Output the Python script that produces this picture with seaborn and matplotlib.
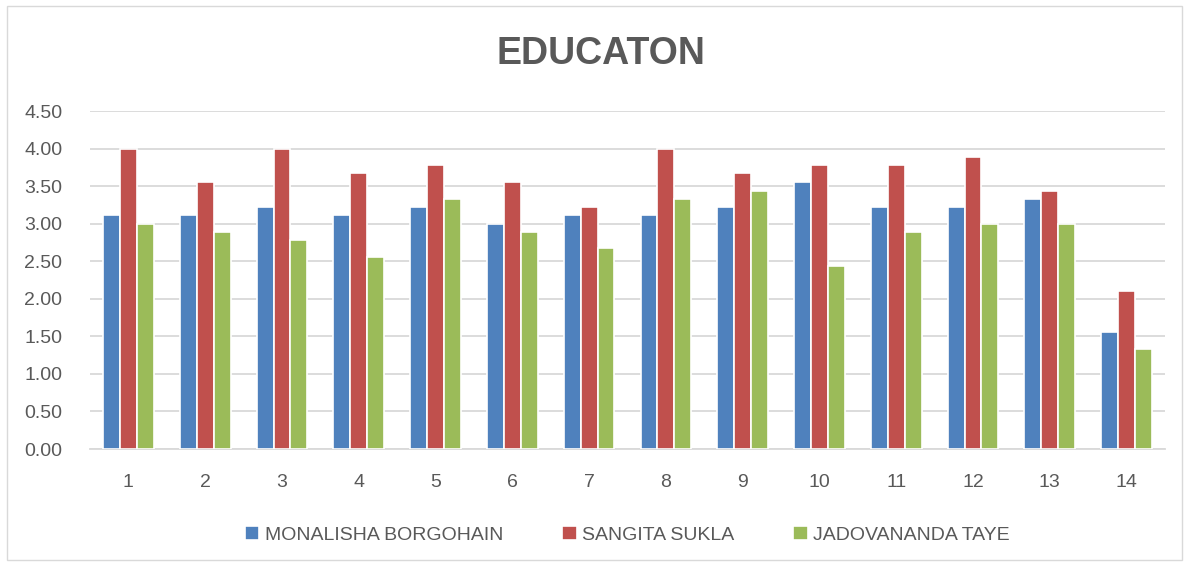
import pandas as pd
import matplotlib.pyplot as plt
import seaborn as sns
from matplotlib.patches import Rectangle

categories = [str(i) for i in range(1, 15)]
monalisha = [3.11, 3.11, 3.22, 3.11, 3.22, 3.00, 3.11, 3.11, 3.22, 3.56, 3.22, 3.22, 3.33, 1.56]
sangita = [4.00, 3.56, 4.00, 3.67, 3.78, 3.56, 3.22, 4.00, 3.67, 3.78, 3.78, 3.89, 3.44, 2.11]
jadovananda = [3.00, 2.89, 2.78, 2.56, 3.33, 2.89, 2.67, 3.33, 3.44, 2.44, 2.89, 3.00, 3.00, 1.33]
series_names = ['MONALISHA BORGOHAIN', 'SANGITA SUKLA', 'JADOVANANDA TAYE']
colors = ['#4F81BD', '#C0504D', '#9BBB59']

df = pd.DataFrame({'item': categories * 3,
                   'score': monalisha + sangita + jadovananda,
                   'name': [n for n in series_names for _ in categories]})

sns.set_style('white')
plt.rcParams['font.family'] = ['Liberation Sans Narrow', 'Liberation Sans', 'DejaVu Sans']

fig = plt.figure(figsize=(11.89, 5.66), dpi=100)
ax = fig.add_axes([90 / 1189, 117 / 566, 1075 / 1189, 338 / 566])

sns.barplot(data=df, x='item', y='score', hue='name', palette=colors, width=0.66,
            edgecolor='white', linewidth=1.2, saturation=1, ax=ax, zorder=3)

ax.set_ylim(0, 4.5)
ax.set_xlim(-0.5, 13.5)
ax.set_yticks([i * 0.5 for i in range(10)])
ax.set_yticklabels([f'{i * 0.5:.2f}' for i in range(10)])
ax.yaxis.grid(True, color='#D9D9D9', linewidth=1.3, zorder=0)
ax.set_axisbelow(True)
for side in ['left', 'right', 'top']:
    ax.spines[side].set_visible(False)
ax.spines['bottom'].set_color('#D9D9D9')
ax.spines['bottom'].set_linewidth(1.3)
ax.tick_params(axis='both', length=0, labelsize=14, labelcolor='#595959')
ax.tick_params(axis='x', pad=18)
ax.tick_params(axis='y', pad=20)
ax.set_xlabel('')
ax.set_ylabel('')

ax.legend(loc='upper center', bbox_to_anchor=(0.5, -0.175), ncol=3, frameon=False,
          fontsize=14, labelcolor='#595959', handlelength=0.75, handleheight=0.75,
          handletextpad=0.3, columnspacing=3.0)

fig.text(0.505, 0.905, 'EDUCATON', ha='center', va='center', fontsize=27,
         fontweight='bold', color='#595959')

fig.patches.append(Rectangle((7 / 1189, 6 / 566), 1175 / 1189, 554 / 566,
                             transform=fig.transFigure, fill=False,
                             edgecolor='#D9D9D9', linewidth=1))

fig.savefig('out.png', dpi=100, facecolor='white')
